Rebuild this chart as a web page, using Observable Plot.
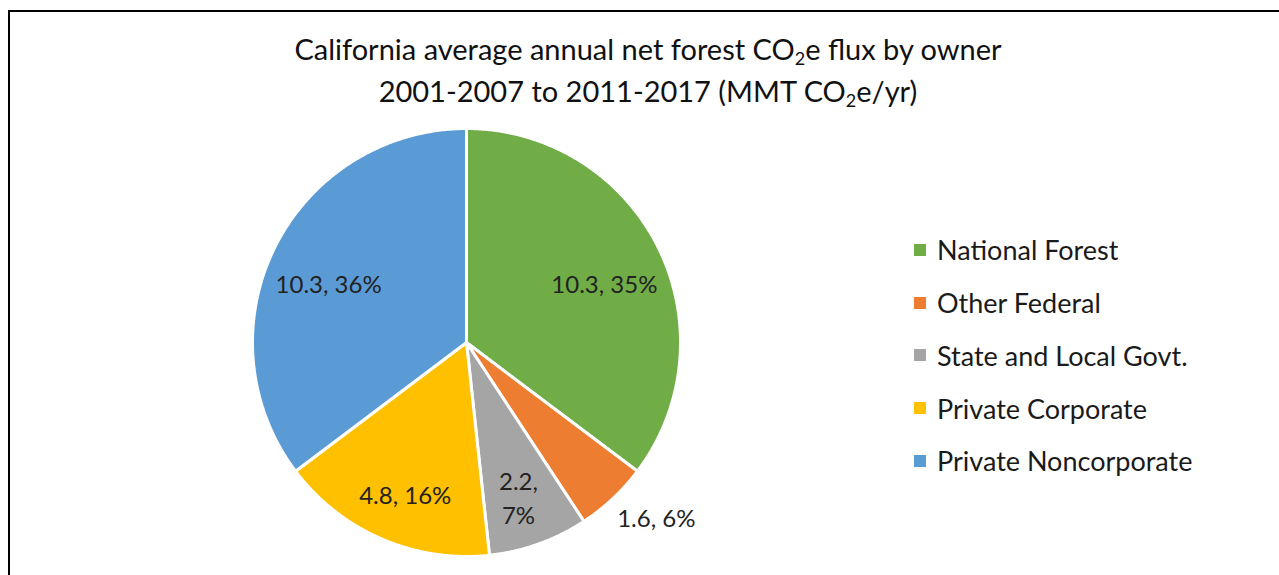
<!DOCTYPE html>
<html><head><meta charset="utf-8">
<script src="https://cdn.jsdelivr.net/npm/d3@7"></script>
<script src="https://cdn.jsdelivr.net/npm/@observablehq/plot@0.6"></script>
<style>
html,body{margin:0;padding:0;background:#fff;overflow:hidden;width:1279px;height:575px;}
#frame{position:absolute;left:8px;top:10px;width:1300px;height:620px;border-left:2px solid #000;border-top:2px solid #000;box-sizing:border-box;}
#title{position:absolute;left:8px;width:1280px;top:28px;text-align:center;font-family:Lato;font-size:29px;line-height:42px;color:#111;}
#title sub{font-size:0.62em;line-height:0;vertical-align:-0.3em;}
#chart{position:absolute;left:232px;top:108px;}
#legend{position:absolute;left:914px;top:223.6px;width:360px;}
#legend .lg-swatches{margin:0!important;}
#legend .lg-swatch{height:52.75px;padding:0!important;display:flex;align-items:center;}
#legend .lg-swatch svg{margin-right:11px!important;}
</style></head>
<body>
<div id="frame"></div>
<div id="title">California average annual net forest CO<sub>2</sub>e flux by owner<br>2001-2007 to 2011-2017 (MMT CO<sub>2</sub>e/yr)</div>
<div id="chart"></div>
<div id="legend"></div>
<script>
const owners = ["National Forest", "Other Federal", "State and Local Govt.", "Private Corporate", "Private Noncorporate"];
const flux = [10.3, 1.6, 2.2, 4.8, 10.3];
const shares = [35, 6, 7, 16, 36];
const colors = ["#70AD47", "#ED7D31", "#A5A5A5", "#FFC000", "#5B9BD5"];

const rows = owners.map((o, i) => ({owner: o, value: flux[i], share: shares[i]}));
const arcs = d3.pie().sort(null).value(d => d.value)(rows);
const total = d3.sum(flux);

const slicePts = [];
arcs.forEach(a => {
  const o = a.data.owner;
  slicePts.push({owner: o, x: 0, y: 0});
  const n = Math.max(2, Math.ceil((a.endAngle - a.startAngle) / (Math.PI / 360)));
  for (let k = 0; k <= n; k++) {
    const t = a.startAngle + (a.endAngle - a.startAngle) * k / n;
    slicePts.push({owner: o, x: Math.sin(t), y: Math.cos(t)});
  }
  slicePts.push({owner: o, x: 0, y: 0});
});

const insideLabels = [], outsideLabels = [];
arcs.forEach(a => {
  const mid = (a.startAngle + a.endAngle) / 2;
  const frac = a.value / total;
  if (frac < 0.065) {
    const r = 1.05;
    outsideLabels.push({x: r * Math.sin(mid), y: r * Math.cos(mid), text: `${a.data.value}, ${a.data.share}%`});
  } else {
    const r = 0.72;
    const sep = frac < 0.1 ? ",\n" : ", ";
    insideLabels.push({x: r * Math.sin(mid), y: r * Math.cos(mid), text: `${a.data.value}${sep}${a.data.share}%`});
  }
});

const chart = Plot.plot({
  width: 520, height: 470,
  marginLeft: 20, marginRight: 72, marginTop: 20, marginBottom: 22,
  x: {domain: [-1, 1], axis: null},
  y: {domain: [-1, 1], axis: null},
  color: {domain: owners, range: colors},
  style: {fontFamily: "Lato", background: "transparent", overflow: "visible"},
  marks: [
    Plot.line(slicePts, {x: "x", y: "y", z: "owner", fill: "owner", stroke: "white", strokeWidth: 3, curve: "linear"}),
    Plot.text(insideLabels, {x: "x", y: "y", text: "text", fontSize: 24, fill: "#222", lineHeight: 1.4, dy: 9}),
    Plot.text(outsideLabels, {x: "x", y: "y", text: "text", fontSize: 24, fill: "#222", textAnchor: "start", lineAnchor: "top", dx: -3, dy: 4})
  ]
});
document.getElementById("chart").appendChild(chart);

const leg = Plot.legend({
  color: {domain: owners, range: colors},
  legend: "swatches", columns: 1, swatchSize: 12, className: "lg",
  style: {fontFamily: "Lato", fontSize: "27px", color: "#1a1a1a"}
});
document.getElementById("legend").appendChild(leg);
</script>
</body></html>
